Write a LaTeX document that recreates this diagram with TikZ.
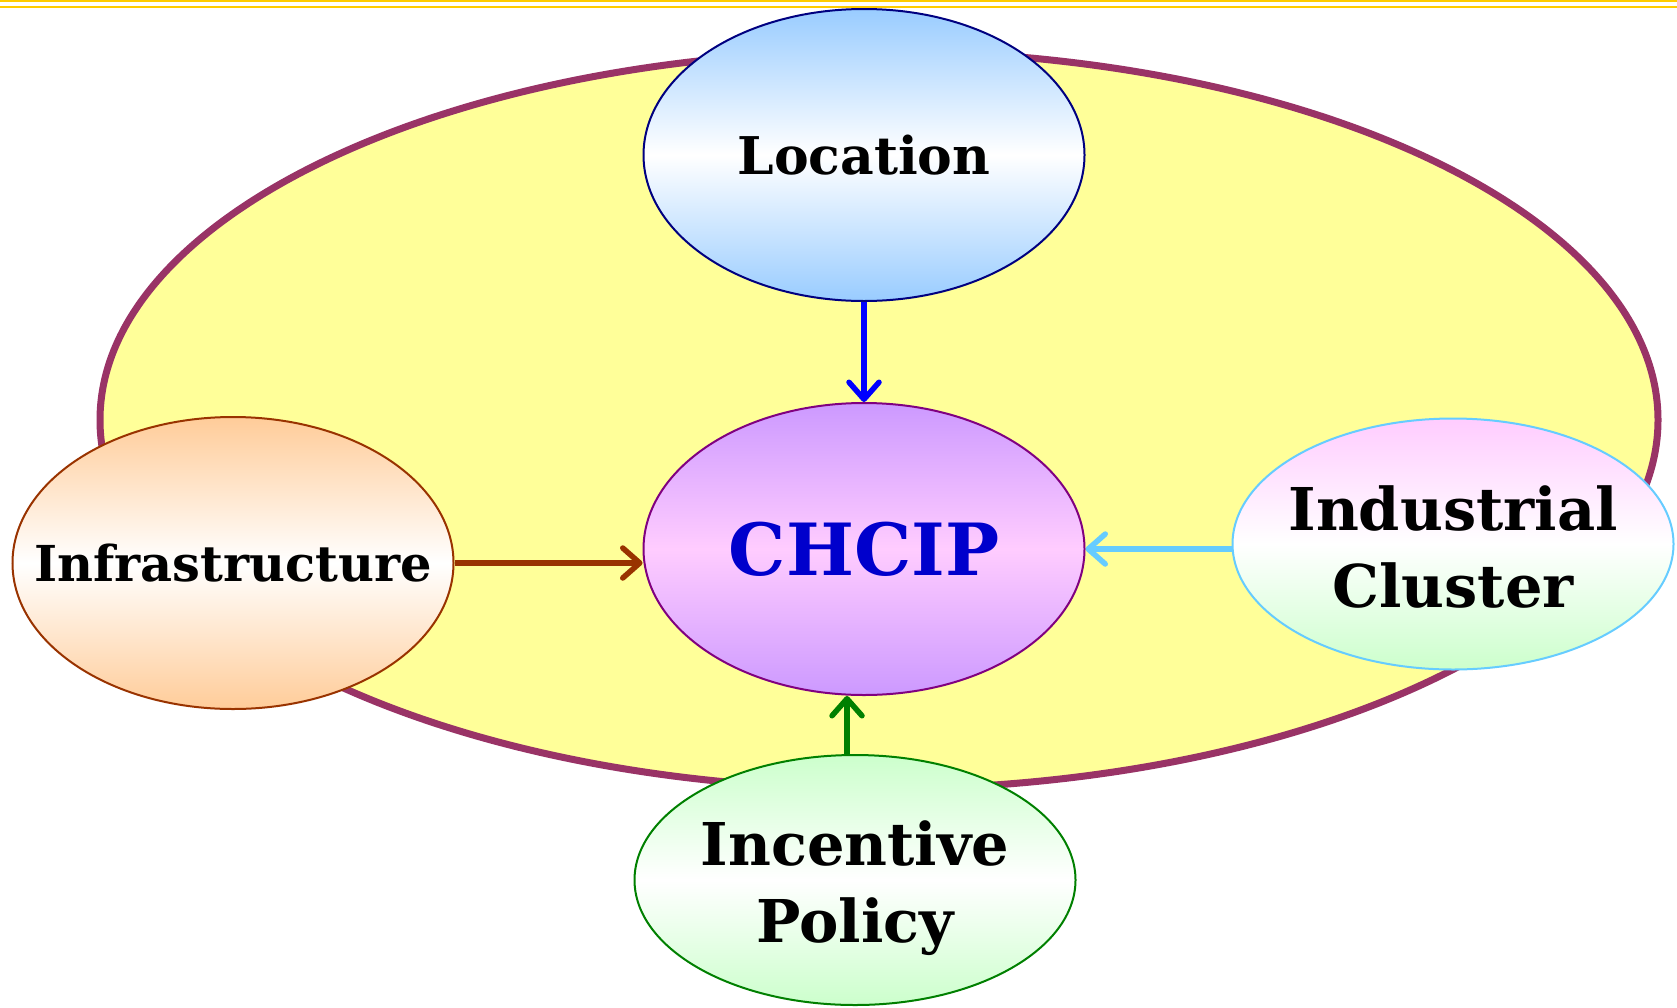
\documentclass[tikz,border=0pt]{standalone}
\usepackage{fontspec}
\setmainfont{DejaVu Serif}
\usetikzlibrary{shapes.geometric,arrows.meta}
\definecolor{gold}{HTML}{FFCC00}
\definecolor{paleyellow}{HTML}{FFFF99}
\definecolor{plum}{HTML}{993366}
\definecolor{skyblue}{HTML}{99CCFF}
\definecolor{lilac}{HTML}{CC99FF}
\definecolor{pinkish}{HTML}{FFCCFF}
\definecolor{peach}{HTML}{FFCC99}
\definecolor{mint}{HTML}{CCFFCC}
\definecolor{rust}{HTML}{993300}
\definecolor{lightblue}{HTML}{66CCFF}
\definecolor{navy}{HTML}{000080}
\definecolor{violet}{HTML}{800080}
\definecolor{leaf}{HTML}{008000}
\definecolor{deepblue}{HTML}{0000CC}
\begin{document}
\begin{tikzpicture}[x=1pt, y=-1pt,
		bubble/.style={ellipse, draw, line width=2pt, minimum width=441pt, minimum height=292pt, inner sep=0pt},
		lbl/.style={font=\bfseries\fontsize{52}{66}\selectfont, align=center},
		big/.style={font=\bfseries\fontsize{59}{77}\selectfont, align=center},
		link/.style={line width=5.5pt, -{Straight Barb[length=17pt,width=30pt,round]}}
		]
	\useasboundingbox (0,0) rectangle (1677,1007);
	\draw[gold, line width=2.4pt] (0,1.2) -- (1677,1.2);
	\draw[gold, line width=2.4pt] (0,6.8) -- (1677,6.8);
	% outer region
	\node [ellipse, draw=plum, fill=paleyellow, line width=7pt, minimum width=1558pt, minimum height=738pt] (region) at (879,420) {};
	% five bubbles
	\node [bubble, draw=rust, top color=peach, bottom color=peach, middle color=white] (infra) at (233,563) {};
	\node [bubble, draw=navy, top color=skyblue, bottom color=skyblue, middle color=white] (loc) at (864,155) {};
	\node [bubble, draw=violet, top color=lilac, bottom color=lilac, middle color=pinkish] (chcip) at (864,549) {};
	\node [bubble, draw=lightblue, minimum height=251pt, top color=pinkish, bottom color=mint, middle color=white] (ind) at (1453,544) {};
	\node [bubble, draw=leaf, minimum height=250pt, top color=mint, bottom color=mint, middle color=white] (inc) at (855,880) {};
	% texts
	\node [lbl] (locT) at (loc) {Location};
	\node [lbl, font=\bfseries\fontsize{49.5}{60}\selectfont] (infraT) at (infra) {Infrastructure};
	\node [big, font=\bfseries\fontsize{72}{80}\selectfont, text=deepblue] (chcipT) at (chcip) {CHCIP};
	\node [big, yshift=-3pt] (indT) at (ind) {Industrial\\Cluster};
	\node [big, yshift=-8pt] (incT) at (inc) {Incentive\\Policy};
	% arrows
	\coordinate (gx) at (847,0);
	\draw [link, blue] (loc.south) -- (chcip.north);
	\draw [link, rust] (infra.east) -- (infra.east -| chcip.west);
	\draw [link, lightblue] (ind.west |- chcip.east) -- (chcip.east);
	\draw [link, leaf] (inc.north -| gx) -- (chcip.south -| gx);
\end{tikzpicture}
\end{document}
